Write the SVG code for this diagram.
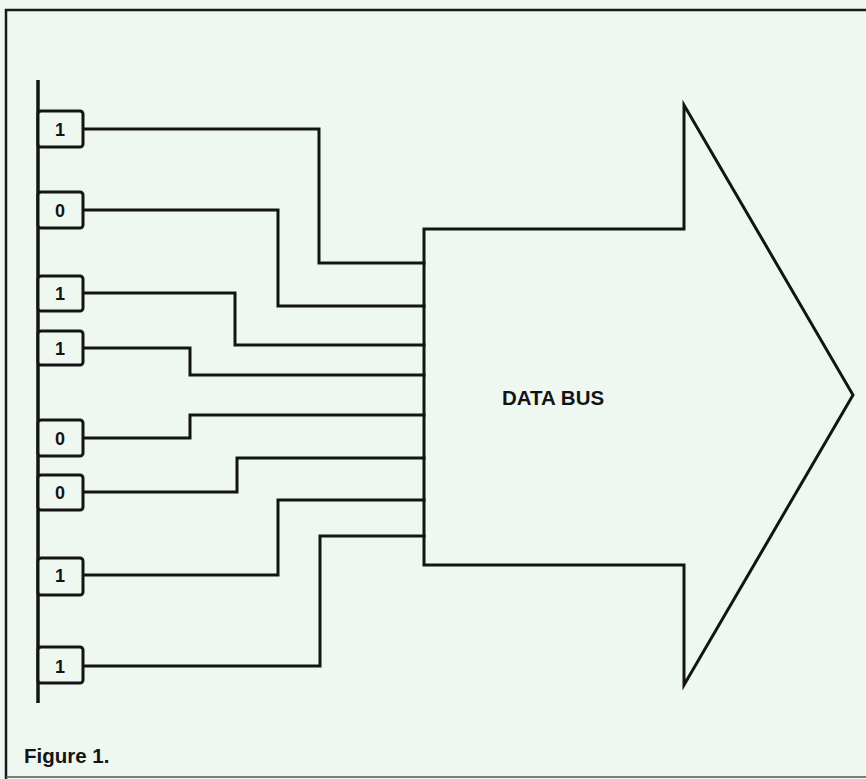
<svg xmlns="http://www.w3.org/2000/svg" width="866" height="779" viewBox="0 0 866 779">
<style>
.ln{fill:none;stroke:#141414;stroke-width:3;stroke-linejoin:miter;stroke-linecap:square}
.bx{fill:#eef8f1;stroke:#141414;stroke-width:3}
.lb{font-family:"Liberation Sans",Arial,sans-serif;font-weight:bold;font-size:18px;fill:#141414;text-anchor:middle}
.tx{font-family:"Liberation Sans",Arial,sans-serif;font-weight:bold;fill:#141414}
</style>
<rect x="0" y="0" width="866" height="779" fill="#eef8f1"/>
<path d="M6,779 V10 H866" fill="none" stroke="#1a1a1a" stroke-width="2.5"/>
<line x1="6" y1="777" x2="866" y2="777" stroke="#555" stroke-width="1.5"/>
<g id="bus-line"><line x1="38" y1="80" x2="38" y2="703" stroke="#141414" stroke-width="3.5"/></g>
<g id="connectors">
<path class="ln" d="M83,129 H319 V263 H424"/>
<path class="ln" d="M83,210 H278 V306 H424"/>
<path class="ln" d="M83,293 H235 V345 H424"/>
<path class="ln" d="M83,348 H190 V375 H424"/>
<path class="ln" d="M83,438 H190 V415 H424"/>
<path class="ln" d="M83,492 H237 V458 H424"/>
<path class="ln" d="M83,575 H278 V500 H424"/>
<path class="ln" d="M83,666 H320 V536 H424"/>
</g>
<g id="data-bus">
<path class="ln" d="M424,229 H684 V105 L853,395 L684,685 V565 H424 Z"/>
<text class="tx" x="502" y="405" font-size="20.5">DATA BUS</text>
</g>
<g id="bit1"><rect class="bx" x="38" y="111" width="45" height="36" rx="3"/><text class="lb" x="60" y="135.5">1</text></g>
<g id="bit2"><rect class="bx" x="38" y="192" width="45" height="36" rx="3"/><text class="lb" x="60" y="216.5">0</text></g>
<g id="bit3"><rect class="bx" x="38" y="276" width="45" height="35" rx="3"/><text class="lb" x="60" y="299.5">1</text></g>
<g id="bit4"><rect class="bx" x="38" y="331" width="45" height="34" rx="3"/><text class="lb" x="60" y="354.5">1</text></g>
<g id="bit5"><rect class="bx" x="38" y="420" width="45" height="36" rx="3"/><text class="lb" x="60" y="444.5">0</text></g>
<g id="bit6"><rect class="bx" x="38" y="475" width="45" height="35" rx="3"/><text class="lb" x="60" y="498.5">0</text></g>
<g id="bit7"><rect class="bx" x="38" y="558" width="45" height="37" rx="3"/><text class="lb" x="60" y="581.5">1</text></g>
<g id="bit8"><rect class="bx" x="38" y="647" width="45" height="36" rx="3"/><text class="lb" x="60" y="672.5">1</text></g>
<text class="tx" x="24" y="763" font-size="20.5">Figure 1.</text>
</svg>
